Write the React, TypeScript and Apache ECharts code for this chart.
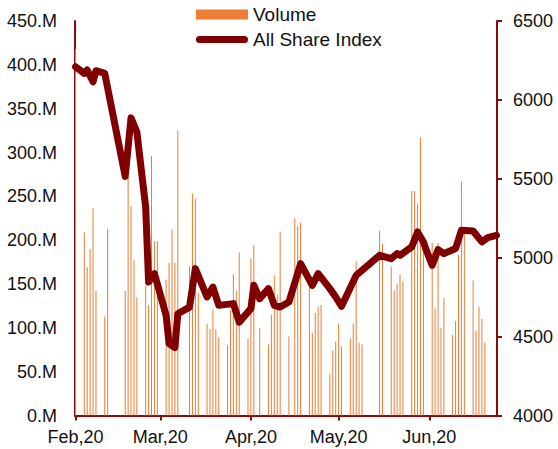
import React, { useEffect, useRef } from "react";
import * as echarts from "echarts";

// Volume (millions) on trading days
const volumeDates = [
  "2020-02-01", "2020-02-04", "2020-02-05", "2020-02-06", "2020-02-07", "2020-02-08",
  "2020-02-11", "2020-02-12", "2020-02-18", "2020-02-19", "2020-02-20", "2020-02-21",
  "2020-02-22", "2020-02-25", "2020-02-26", "2020-02-27", "2020-02-28", "2020-02-29",
  "2020-03-03", "2020-03-04", "2020-03-05", "2020-03-06", "2020-03-07", "2020-03-11",
  "2020-03-12", "2020-03-13", "2020-03-14", "2020-03-17", "2020-03-18", "2020-03-19",
  "2020-03-20", "2020-03-21", "2020-03-24", "2020-03-25", "2020-03-26", "2020-03-27",
  "2020-03-28", "2020-03-31", "2020-04-01", "2020-04-02", "2020-04-04", "2020-04-07",
  "2020-04-08", "2020-04-09", "2020-04-10", "2020-04-11", "2020-04-14", "2020-04-16",
  "2020-04-17", "2020-04-18", "2020-04-21", "2020-04-22", "2020-04-23", "2020-04-24",
  "2020-04-25", "2020-04-28", "2020-04-29", "2020-04-30", "2020-05-01", "2020-05-02",
  "2020-05-05", "2020-05-06", "2020-05-07", "2020-05-08", "2020-05-09", "2020-05-15",
  "2020-05-16", "2020-05-19", "2020-05-20", "2020-05-21", "2020-05-22", "2020-05-23",
  "2020-05-26", "2020-05-27", "2020-05-28", "2020-05-29", "2020-05-30", "2020-06-02",
  "2020-06-03", "2020-06-04", "2020-06-05", "2020-06-06", "2020-06-09", "2020-06-10",
  "2020-06-11", "2020-06-12", "2020-06-13", "2020-06-16", "2020-06-17", "2020-06-18",
  "2020-06-19", "2020-06-20",
];
const volumeValues = [
  418, 209, 169, 190, 236, 142,
  113, 213, 142, 272, 239, 177,
  135, 148, 126, 296, 199, 199,
  155, 174, 212, 174, 325, 170,
  253, 247, 140, 105, 99, 121,
  98, 89, 80, 120, 161, 142,
  186, 88, 179, 194, 100, 81,
  115, 160, 138, 210, 90, 225,
  216, 220, 149, 94, 117, 124,
  126, 48, 74, 84, 105, 79,
  88, 105, 176, 83, 81, 211,
  196, 170, 143, 150, 161, 153,
  256, 256, 241, 317, 190, 197,
  122, 197, 100, 134, 92, 108,
  183, 267, 210, 154, 97, 124,
  110, 83,
];

// All Share Index
const indexDates = [
  "2020-02-01", "2020-02-04", "2020-02-05", "2020-02-07", "2020-02-08", "2020-02-11",
  "2020-02-18", "2020-02-20", "2020-02-22", "2020-02-25", "2020-02-26", "2020-02-28",
  "2020-03-03", "2020-03-04", "2020-03-06", "2020-03-07", "2020-03-11", "2020-03-13",
  "2020-03-17", "2020-03-19", "2020-03-21", "2020-03-26", "2020-03-28", "2020-04-01",
  "2020-04-02", "2020-04-04", "2020-04-07", "2020-04-09", "2020-04-11", "2020-04-14",
  "2020-04-18", "2020-04-22", "2020-04-24", "2020-04-28", "2020-04-30", "2020-05-02",
  "2020-05-07", "2020-05-15", "2020-05-19", "2020-05-21", "2020-05-22", "2020-05-26",
  "2020-05-28", "2020-05-30", "2020-05-31", "2020-06-02", "2020-06-04", "2020-06-06",
  "2020-06-10", "2020-06-12", "2020-06-16", "2020-06-19", "2020-06-21", "2020-06-24",
];
const indexValues = [
  6210, 6168, 6189, 6115, 6185, 6168,
  5515, 5886, 5795, 5322, 4846, 4899,
  4634, 4455, 4430, 4645, 4687, 4931,
  4751, 4814, 4698, 4709, 4592, 4677,
  4825, 4740, 4804, 4698, 4687, 4719,
  4962, 4825, 4899, 4804, 4751, 4692,
  4888, 5015, 4994, 5026, 5015, 5068,
  5163, 5100, 5047, 4952, 5051, 5026,
  5058, 5174, 5169, 5100, 5127, 5142,
];

const monthNames = ["Jan", "Feb", "Mar", "Apr", "May", "Jun", "Jul", "Aug", "Sep", "Oct", "Nov", "Dec"];
const volumeTicks = { min: 0, max: 450, interval: 50 };
const indexTicks = { min: 4000, max: 6500, interval: 500 };

const AXIS = "#8b0a0a";
const LINE = "#800000";
const BAR = "#ed7d31";
const FONT = "'Liberation Sans', Arial, sans-serif";

// thick line with round caps for the legend (tiny corner specks keep the box 52x10)
const LINE_ICON =
  "path://M0,0 L0.01,0 L0,0.01 Z M52,10 L51.99,10 L52,9.99 Z " +
  "M3.5,1.5 L48.5,1.5 A3.5,3.5 0 0 1 48.5,8.5 L3.5,8.5 A3.5,3.5 0 0 1 3.5,1.5 Z";

export default function App() {
  const ref = useRef<HTMLDivElement>(null);
  useEffect(() => {
    if (!ref.current) return;
    const chart = echarts.init(ref.current, undefined, { renderer: "svg" });
    const day = 86400000;
    chart.setOption({
      animation: false,
      backgroundColor: "#ffffff",
      textStyle: { fontFamily: FONT },
      legend: {
        orient: "vertical",
        left: 191,
        top: 0,
        itemWidth: 52,
        itemHeight: 10,
        itemGap: 6,
        textStyle: { fontSize: 19, color: "#111", fontFamily: FONT },
        data: [
          { name: "Volume", icon: "rect" },
          { name: "All Share Index", icon: LINE_ICON, itemStyle: { color: LINE } },
        ],
      },
      grid: { left: 75, right: 61, top: 21, bottom: 33.5 },
      xAxis: {
        type: "time",
        min: "2020-02-01",
        max: "2020-06-24",
        minInterval: 28 * day,
        maxInterval: 31 * day,
        splitLine: { show: false },
        axisLine: { show: true, lineStyle: { color: AXIS, width: 2 } },
        axisTick: { show: true, length: 5, lineStyle: { color: AXIS, width: 2 } },
        axisLabel: {
          margin: 12,
          fontSize: 18,
          color: "#111",
          fontFamily: FONT,
          showMaxLabel: false,
          formatter: (v: number) => {
            const d = new Date(v);
            return monthNames[d.getMonth()] + ",20";
          },
        },
      },
      yAxis: [
        {
          type: "value",
          position: "left",
          min: volumeTicks.min,
          max: volumeTicks.max,
          interval: volumeTicks.interval,
          splitLine: { show: false },
          axisLine: { show: true, lineStyle: { color: AXIS, width: 2 } },
          axisTick: { show: false },
          axisLabel: {
            margin: 18,
            fontSize: 18,
            color: "#111",
            fontFamily: FONT,
            formatter: (v: number) => v + ".M",
          },
        },
        {
          type: "value",
          position: "right",
          min: indexTicks.min,
          max: indexTicks.max,
          interval: indexTicks.interval,
          splitLine: { show: false },
          axisLine: { show: true, lineStyle: { color: AXIS, width: 2 } },
          axisTick: { show: true, length: 5, lineStyle: { color: AXIS, width: 2 } },
          axisLabel: {
            margin: 16,
            fontSize: 18,
            color: "#111",
            fontFamily: FONT,
            formatter: (v: number) => String(v),
          },
        },
      ],
      series: [
        {
          name: "Volume",
          type: "bar",
          yAxisIndex: 0,
          barWidth: 1,
          itemStyle: { color: BAR },
          data: volumeDates.map((d, i) => [d, volumeValues[i]]),
        },
        {
          name: "All Share Index",
          type: "line",
          yAxisIndex: 1,
          symbol: "none",
          showSymbol: false,
          itemStyle: { color: LINE },
          lineStyle: { color: LINE, width: 7, cap: "round", join: "round" },
          data: indexDates.map((d, i) => [d, indexValues[i]]),
        },
      ],
    });
    return () => chart.dispose();
  }, []);
  return (
    <div
      ref={ref}
      style={{ position: "absolute", left: 0, top: 0, width: 558, height: 449 }}
    />
  );
}
